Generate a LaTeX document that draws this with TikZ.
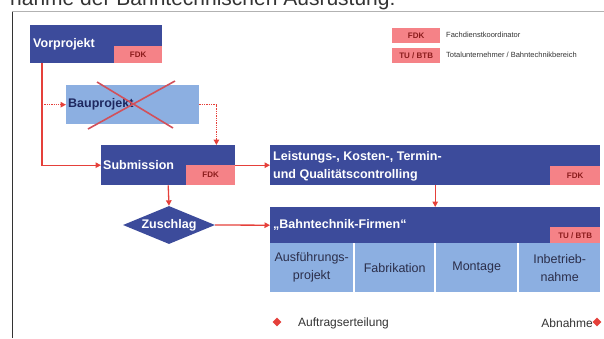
\documentclass[tikz,border=0pt]{standalone}
\usepackage{fontspec}
\setmainfont{Liberation Sans}
\usetikzlibrary{arrows.meta,shapes.geometric,calc}
\definecolor{dblue}{HTML}{3C4B9B}
\definecolor{lblue}{HTML}{8CAFE1}
\definecolor{pinkc}{HTML}{F58287}
\definecolor{redc}{HTML}{E5403A}
\definecolor{tagred}{HTML}{8B1C1C}
\definecolor{bautext}{HTML}{1E2860}
\definecolor{textdark}{HTML}{2B2E4A}
\definecolor{textgray}{HTML}{333333}
\definecolor{xred}{HTML}{D2505A}
\begin{document}
\begin{tikzpicture}[x=1pt,y=-1pt,
  darkbox/.style={fill=dblue, inner sep=0pt, anchor=north west},
  lightbox/.style={fill=lblue, inner sep=0pt, anchor=north west},
  tagbox/.style={fill=pinkc, inner sep=0pt, anchor=north west, font=\fontsize{8}{9}\selectfont\bfseries, text=tagred},
  boxtext/.style={text=white, font=\fontsize{12.5}{18}\selectfont\bfseries, inner sep=0pt, anchor=west},
  phasetext/.style={lightbox, align=center, text=textdark, font=\fontsize{12.5}{18}\selectfont},
  redarrow/.style={draw=redc, line width=1.3pt, -{Triangle[length=5.5pt,width=5.5pt]}},
  dotarrow/.style={redarrow, densely dotted},
  xline/.style={draw=xred, line width=1.6pt},
  marker/.style={diamond, aspect=1, fill=redc, minimum size=9pt, inner sep=0pt},
  legtext/.style={anchor=west, inner sep=0pt, text=textgray, font=\fontsize{7.5}{8}\selectfont},
  bottext/.style={inner sep=0pt, text=textgray, font=\fontsize{12}{14}\selectfont}]
\useasboundingbox (0,0) rectangle (604,338);
\clip (0,0) rectangle (604,338);

% title (cut off at top, as in the reference) and frame
\node[anchor=base west, font=\fontsize{21}{24}\selectfont, text=textgray, inner sep=0pt] (title) at (10,5) {nahme der Bahntechnischen Ausrüstung:};
\draw[black!80, line width=0.9pt] (12,338) -- (12,11);
\draw[gray!60, line width=0.8pt] (12,11) -- (604,11);

% legend
\node[tagbox, minimum width=48pt, minimum height=15pt] (lfdk) at (392,28) {FDK};
\node[legtext] (lfdkt) at (446,35) {Fachdienstkoordinator};
\node[tagbox, minimum width=48pt, minimum height=15pt] (ltu) at (392,48) {TU / BTB};
\node[legtext] (ltut) at (446,55) {Totalunternehmer / Bahntechnikbereich};

% Vorprojekt
\node[darkbox, minimum width=132pt, minimum height=38pt] (vor) at (30,25) {};
\node[tagbox, minimum width=48pt, minimum height=17pt] (vorfdk) at (114,46) {FDK};
\node[boxtext] (vortxt) at (33,44) {Vorprojekt};

% Bauprojekt (crossed out)
\node[lightbox, minimum width=133pt, minimum height=39pt] (bau) at (66,85) {};
\node[boxtext, text=bautext] (bautxt) at (68,104) {Bauprojekt};
\draw[xline] (88,129) -- (175,81);
\draw[xline] (97,82) -- (173,128);

% Submission
\node[darkbox, minimum width=134pt, minimum height=40pt] (sub) at (101,145) {};
\node[tagbox, minimum width=49pt, minimum height=20pt] (subfdk) at (186,165) {FDK};
\node[boxtext] (subtxt) at (103,165) {Submission};

% Leistungs-, Kosten-, Termin- und Qualitaetscontrolling
\node[darkbox, minimum width=330pt, minimum height=40pt] (lks) at (270,145) {};
\node[tagbox, minimum width=50pt, minimum height=19pt] (lksfdk) at (550,166) {FDK};
\node[boxtext, align=left] (lkstxt) at (273,166) {Leistungs-, Kosten-, Termin-\\und Qualitätscontrolling};

% Bahntechnik-Firmen
\node[darkbox, minimum width=330pt, minimum height=36pt] (bt) at (270,207) {};
\node[tagbox, minimum width=50pt, minimum height=16pt] (bttu) at (550,227) {TU / BTB};
\node[boxtext] (bttxt) at (273,225) {„Bahntechnik-Firmen“};

% phases
\node[phasetext, minimum width=83pt, minimum height=49pt] (p1) at (270,243) {Ausführungs-\\projekt};
\node[phasetext, minimum width=79pt, minimum height=49pt] (p2) at (355,243) {Fabrikation};
\node[phasetext, minimum width=81pt, minimum height=49pt] (p3) at (436,243) {Montage};
\node[phasetext, minimum width=81pt, minimum height=49pt] (p4) at (519,243) {Inbetrieb-\\nahme};

% Zuschlag
\node[diamond, aspect=2.4, fill=dblue, minimum width=92pt, minimum height=38pt, inner sep=0pt, text=white, font=\fontsize{12.5}{14}\selectfont\bfseries] (zu) at (169,225) {Zuschlag};

% connectors
\coordinate (vl) at ([xshift=12pt]vor.south west);
\coordinate (sc) at ([xshift=-19pt]sub.north east);
\draw[redarrow] (vl) |- (sub.west);
\draw[dotarrow] (vl |- bau.west) -- (bau.west);
\draw[dotarrow] (bau.east) -| (sc);
\draw[redarrow] (sub.east) -- (lks.west);
\draw[redarrow] (sub.south) -- (zu.north);
\draw[redarrow] (zu.east) -- (bt.west);
\draw[redarrow] (lks.south) -- (bt.north);

% bottom markers
\node[marker] (m1) at (277,322) {};
\node[bottext, anchor=west] (auf) at (298,323) {Auftragserteilung};
\node[bottext, anchor=east] (abn) at (593,323) {Abnahme};
\node[marker] (m2) at (597,322) {};
\end{tikzpicture}
\end{document}
